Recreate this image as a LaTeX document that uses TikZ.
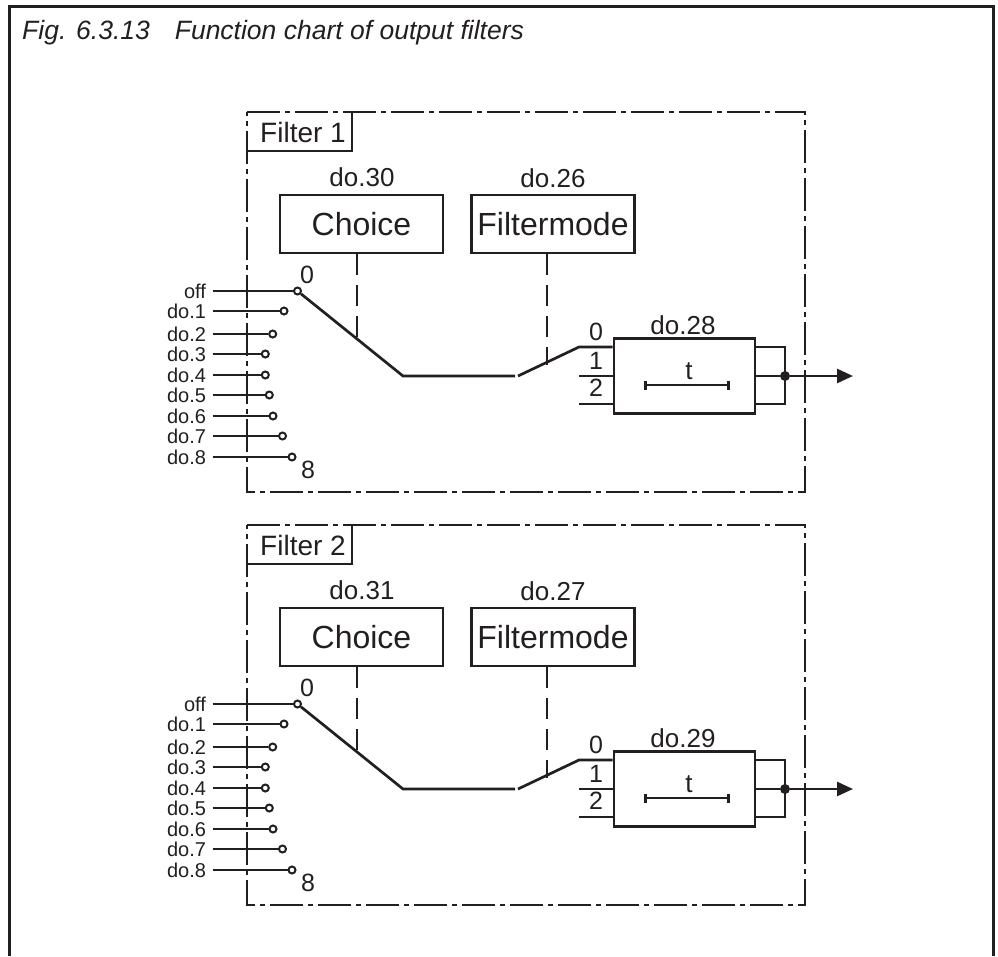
\documentclass[tikz,border=0pt]{standalone}
\usepackage{fontspec}
\setmainfont{Liberation Sans}
\usetikzlibrary{arrows.meta}
\definecolor{ink}{HTML}{231F20}
\newcommand{\fpx}[1]{\fontsize{#1}{#1}\selectfont}
\begin{document}
\begin{tikzpicture}[
    x=1pt, y=-1pt,
    wire/.style={draw=ink, line width=2.7pt},
    ctrl/.style={wire, dash pattern=on 21pt off 10pt},
    group/.style={wire, dash pattern=on 33pt off 5pt on 5pt off 5pt},
    modebox/.style={rectangle, wire, minimum width=163pt, minimum height=58pt, inner sep=0pt, text=ink, font=\fpx{32}},
    filtbox/.style={rectangle, wire, minimum width=141pt, minimum height=75pt, inner sep=0pt},
    tag/.style={inner sep=0pt, text=ink, font=\fpx{26}},
    num/.style={inner sep=0pt, text=ink, font=\fpx{25}},
    inlab/.style={anchor=east, inner ysep=0pt, inner xsep=6.5pt, text height=15pt, text depth=0pt, text=ink, font=\fpx{20}},
    pin/.style={circle, draw=ink, fill=white, line width=2pt, inner sep=0pt, minimum size=7pt},
    joint/.style={circle, fill=ink, inner sep=0pt, minimum size=10pt},
    arr/.style={wire, -{Triangle[length=16pt, width=14pt]}}
]
    \useasboundingbox (0,0) rectangle (998,956);
    % Outer frame, open at the bottom
    \coordinate (frameA) at (9.7,956);
    \coordinate (frameB) at (9.7,6.3);
    \coordinate (frameC) at (993.5,6.3);
    \coordinate (frameD) at (993.5,956);
    \draw[wire, line width=2.8pt] (frameA) -- (frameB) -- (frameC) -- (frameD);
    \node[anchor=base west, inner sep=0pt, text=ink, font=\fpx{26.5}\itshape] (title) at (22,39) {Fig. 6.3.13\hspace{25pt}Function chart of output filters};

    % One block per filter, second one shifted down
    \foreach \fy/\fnum/\selnum/\modenum/\timenum in {0/1/30/26/28, 413/2/31/27/29} {
    \begin{scope}[shift={(0,\fy)}]
        \coordinate (grpA) at (247,112);
        \coordinate (grpB) at (805,112);
        \coordinate (grpC) at (805,492);
        \coordinate (grpD) at (247,492);
        \draw[group] (grpA) -- (grpB) -- (grpC) -- (grpD) -- cycle;
        \node[inner sep=0pt, text=ink, font=\fpx{28}] (filtname) at (303,132) {Filter \fnum};
        \coordinate (nameA) at (247,151);
        \coordinate (nameB) at (352,151);
        \coordinate (nameC) at (352,112);
        \draw[wire] (nameA) -- (nameB) -- (nameC);

        % Mode boxes
        \node[modebox] (choice) at (361.5,224) {Choice};
        \node[modebox] (mode) at (553,224) {Filtermode};
        \node[tag] (seltag) at (362,177) {do.\selnum};
        \node[tag] (modetag) at (553,178) {do.\modenum};

        % Input selector
        \foreach \idx/\lab/\ly/\lx in {0/off/291/297.5, 1/do.1/311/284, 2/do.2/334/272.7, 3/do.3/354/265.3, 4/do.4/375/265.3, 5/do.5/395/269.3, 6/do.6/416/273, 7/do.7/436/282.5, 8/do.8/457/292} {
            \node[inlab] (lab\idx) at (212.7,\ly) {\lab};
            \node[pin] (pin\idx) at (\lx,\ly) {};
            \draw[wire] (lab\idx.east) -- (pin\idx);
        }
        \node[num] (first) at (307,274.5) {0};
        \node[num] (last) at (308,470) {8};
        \coordinate (knee) at (403,376);
        \coordinate (gapL) at (515,376);
        \draw[wire] (pin0) -- (knee) -- (gapL);
        \coordinate (choicefoot) at (357,339);
        \draw[ctrl] (choicefoot |- choice.south) -- (choicefoot);

        % Time filter
        \node[filtbox] (filt) at (684.5,376) {};
        \node[tag] (timetag) at (683,325) {do.\timenum};
        \coordinate (gapR) at (518,376);
        \coordinate (in0) at (579,347);
        \coordinate (in1) at (579,376);
        \coordinate (in2) at (579,404);
        \draw[wire] (gapR) -- (in0) -- (in0 -| filt.west);
        \draw[wire] (in1) -- (in1 -| filt.west);
        \draw[wire] (in2) -- (in2 -| filt.west);
        \node[num] (sel0) at (596,332) {0};
        \node[num] (sel1) at (596,361) {1};
        \node[num] (sel2) at (596,388) {2};
        \coordinate (modefoot) at (547,365);
        \draw[ctrl] (modefoot |- mode.south) -- (modefoot);

        \node[tag] (tlab) at (689,371) {t};
        \coordinate (barL) at (644,385);
        \coordinate (barR) at (730,385);
        \draw[wire, {Bar[width=9pt]}-{Bar[width=9pt]}] (barL) -- (barR);

        % Output
        \node[joint] (out) at (785,376) {};
        \coordinate (outA) at (785,347);
        \coordinate (outB) at (785,404);
        \coordinate (tip) at (853,376);
        \draw[wire] (outA -| filt.east) -- (outA) -- (outB) -- (outB -| filt.east);
        \draw[wire] (filt.east) -- (out);
        \draw[arr] (out) -- (tip);
    \end{scope}
    }
\end{tikzpicture}
\end{document}
